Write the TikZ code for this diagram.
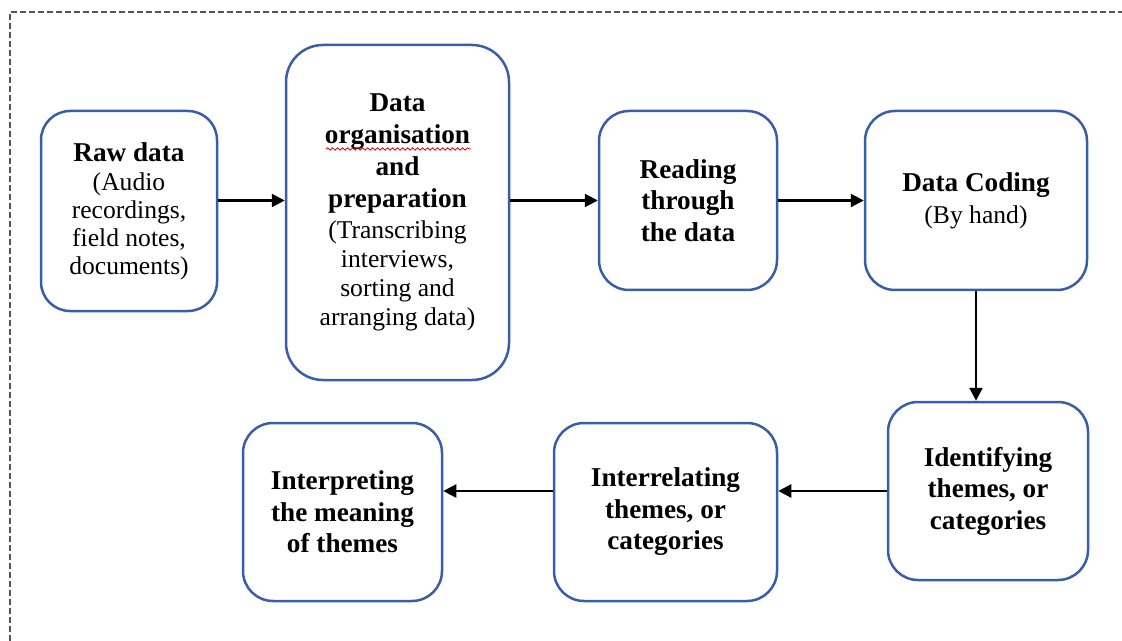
\documentclass[tikz,border=0pt]{standalone}
\usepackage{fontspec}
\setmainfont{Liberation Serif}
\usetikzlibrary{arrows.meta,decorations.pathmorphing}
\definecolor{boxblue}{HTML}{3A5DA8}
\definecolor{framegray}{HTML}{555555}
\newcommand{\bl}[1]{{\bfseries\fontsize{13.6}{15.75}\selectfont #1}}
\tikzset{
  stepbox/.style={draw=boxblue, line width=1.25pt, rectangle, inner sep=0pt, align=center,
    font=\fontsize{12.8}{14}\selectfont},
  boldbox/.style={stepbox, font=\bfseries\fontsize{13.6}{15.75}\selectfont},
  flow/.style={draw=black, line width=1.2pt, -{Triangle[length=6.5pt,width=6.5pt]}}
}
\begin{document}
\begin{tikzpicture}[x=0.5pt,y=-0.5pt]
\useasboundingbox (0,0) rectangle (1122,641);
% dashed frame (only top and left visible)
\draw[framegray, line width=0.6pt, dash pattern=on 3pt off 1.5pt] (10,641) -- (10,12) -- (1122,12);

\node[stepbox, minimum width=88pt, minimum height=100pt, rounded corners=14.5pt] (raw) at (129,211)
  {\bl{Raw data}\\[0.5pt](Audio\\recordings,\\field notes,\\documents)};
\node[stepbox, font=\fontsize{12.8}{14.6}\selectfont, minimum width=111.5pt, minimum height=167.5pt, rounded corners=18.5pt] (org) at (397.5,212.5)
  {\bl{Data}\\[1.4pt]\bl{organisation}\\[1.4pt]\bl{and}\\[1.4pt]\bl{preparation}\\[0.8pt](Transcribing\\interviews,\\sorting and\\arranging data)};
\node[boldbox, minimum width=89pt, minimum height=89.5pt, rounded corners=15pt] (read) at (688,200.5)
  {Reading\\through\\the data};
\node[stepbox, minimum width=111pt, minimum height=89.5pt, rounded corners=15pt] (code) at (976,200.5)
  {\bl{Data Coding}\\[2pt](By hand)};
\node[boldbox, minimum width=100pt, minimum height=89pt, rounded corners=15pt] (ident) at (988,491)
  {Identifying\\themes, or\\categories};
\node[boldbox, minimum width=111.5pt, minimum height=89pt, rounded corners=15pt] (interrel) at (665.5,512)
  {Interrelating\\themes, or\\categories};
\node[boldbox, minimum width=99.5pt, minimum height=89pt, rounded corners=15pt] (interp) at (342.5,512)
  {Interpreting\\the meaning\\of themes};

% spell-check underline
\draw[red!85!black, line width=0.4pt, decorate, decoration={snake, amplitude=0.6pt, segment length=2.5pt}]
  (326,149) -- (471,149);

\draw[flow] (raw.east |- read.center) -- (org.west |- read.center);
\draw[flow] (org.east |- read.center) -- (read.west);
\draw[flow] (read.east) -- (code.west |- read.center);
\draw[flow] (code.south) -- (code.south |- ident.north);
\draw[flow] (ident.west) -- (interrel.east |- ident.west);
\draw[flow] (interrel.west |- ident.west) -- (interp.east |- ident.west);
\end{tikzpicture}
\end{document}
